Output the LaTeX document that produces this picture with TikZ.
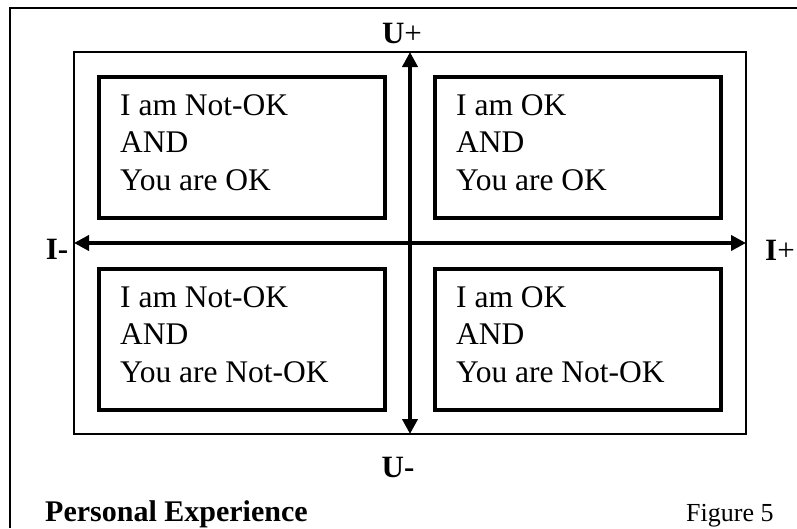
\documentclass[tikz,border=0pt]{standalone}
\usepackage{fontspec}
\setmainfont{Liberation Serif}
\usetikzlibrary{arrows.meta,calc}
\begin{document}
\begin{tikzpicture}[x=1pt,y=-1pt,
  qbox/.style={draw, line width=4pt, minimum width=286pt, minimum height=141pt, inner sep=0pt, outer sep=0pt, anchor=north west},
  qtext/.style={anchor=base west, align=left, inner sep=0pt, font=\fontsize{31.5}{37.5}\selectfont},
  axislbl/.style={anchor=base, inner sep=0pt, font=\fontsize{31}{37.5}\selectfont},
  axis/.style={line width=4pt, {Triangle[length=15pt,width=15pt]}-{Triangle[length=15pt,width=15pt]}},
  frame/.style={line width=1.8pt}]
\useasboundingbox (0,0) rectangle (797,528);
% outer border (open on right and bottom)
\draw[frame] (10,528) -- (10,8) -- (797,8);
% inner frame
\node[draw, line width=1.8pt, minimum width=672pt, minimum height=382pt, inner sep=0pt, outer sep=0pt, anchor=north west] (fr) at (74,52) {};
% quadrant boxes
\node[qbox] (tl) at (99,77) {};
\node[qbox] (tr) at (435,77) {};
\node[qbox] (bl) at (99,269) {};
\node[qbox] (br) at (435,269) {};
% text (anchored at the baseline of the last line)
\node[qtext] (tlt) at ($(tl.north west)+(21,113)$) {I am Not-OK\\AND\\You are OK};
\node[qtext] (trt) at ($(tr.north west)+(21,113)$) {I am OK\\AND\\You are OK};
\node[qtext] (blt) at ($(bl.north west)+(21,113)$) {I am Not-OK\\AND\\You are Not-OK};
\node[qtext] (brt) at ($(br.north west)+(21,113)$) {I am OK\\AND\\You are Not-OK};
% axes
\coordinate (ut) at (410,52);
\coordinate (ub) at (410,434);
\coordinate (il) at (74,243);
\coordinate (ir) at (746,243);
\draw[axis] (ub) -- (ut);
\draw[axis] (il) -- (ir);
% axis labels
\node[axislbl] (up) at (402,43) {\textbf{U}+};
\node[axislbl] (um) at (398,477) {\textbf{U-}};
\node[axislbl] (im) at (57,259) {\textbf{I-}};
\node[axislbl] (ip) at (780,260) {\textbf{I}+};
% captions
\node[anchor=base west, inner sep=0pt, font=\fontsize{30}{36}\selectfont\bfseries] (cap) at (45,521) {Personal Experience};
\node[anchor=base west, inner sep=0pt, font=\fontsize{26}{31}\selectfont] (fig) at (686,521) {Figure 5};
\end{tikzpicture}
\end{document}
